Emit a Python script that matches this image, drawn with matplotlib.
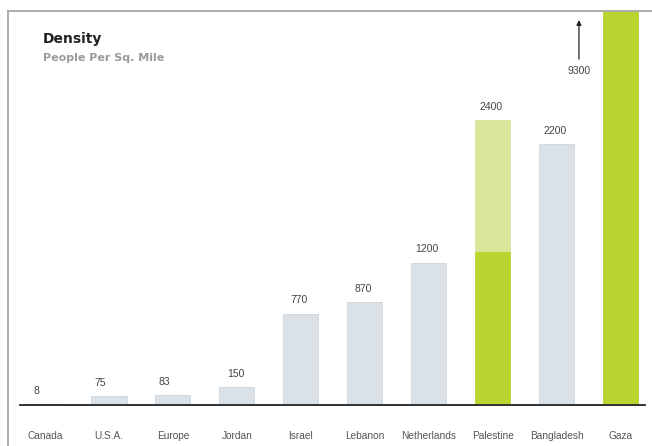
import matplotlib.pyplot as plt
from matplotlib.lines import Line2D

# Data
countries = ['Canada', 'U.S.A.', 'Europe', 'Jordan', 'Israel', 'Lebanon',
             'Netherlands', 'Palestine', 'Bangladesh', 'Gaza']
density = [8, 75, 83, 150, 770, 870, 1200, 2400, 2200, 9300]
palestine_lower = 1300   # darker green part of the Palestine bar
highlight = ['Palestine', 'Gaza']

# Colours
GREY_BAR = '#dbe2e7'
GREY_EDGE = '#cdd5db'
GREEN = '#bcd430'
LIGHT_GREEN = '#d9e69c'

plt.rcParams['font.family'] = ['Liberation Sans', 'DejaVu Sans']

W, H = 652, 446
fig = plt.figure(figsize=(W / 100, H / 100), dpi=100)

# axes placed by pixel box: baseline at y=405, top frame at y=11
ax = fig.add_axes([20 / W, (H - 405) / H, (645 - 20) / W, (405 - 11) / H])
px_per_unit = 0.1186
ax.set_ylim(0, 394 / px_per_unit)
ax.set_xlim(-0.391, 9.383)

width = 0.55
x = list(range(len(countries)))
for i, (name, val) in enumerate(zip(countries, density)):
    if name == 'Palestine':
        ax.bar(i, palestine_lower, width, color=GREEN, edgecolor=GREEN, linewidth=0.6)
        ax.bar(i, val - palestine_lower, width, bottom=palestine_lower,
               color=LIGHT_GREEN, edgecolor=LIGHT_GREEN, linewidth=0.6)
    elif name in highlight:
        ax.bar(i, val, width, color=GREEN, edgecolor='#b5cc2c', linewidth=0.6)
    else:
        ax.bar(i, val, width, color=GREY_BAR, edgecolor=GREY_EDGE, linewidth=0.6)

    if name != 'Gaza':
        dx = -6 if val < 100 else -1
        ax.annotate(str(val), xy=(i, val), xytext=(dx, 9.5), textcoords='offset points',
                    ha='center', va='center', fontsize=7.5, color='#444444')

# Gaza runs off the chart: arrow with the value
gaza_i = countries.index('Gaza')
ax.annotate(str(density[gaza_i]), xy=(gaza_i - 0.65, 3246), xytext=(gaza_i - 0.65, 2816),
            ha='center', va='center', fontsize=7.5, color='#444444',
            arrowprops=dict(arrowstyle='-|>', color='#222222', lw=0.9,
                            mutation_scale=7, shrinkA=3, shrinkB=0))

for s in ['top', 'right', 'left']:
    ax.spines[s].set_visible(False)
ax.spines['bottom'].set_color('#222222')
ax.spines['bottom'].set_linewidth(1.3)
ax.set_yticks([])
ax.set_xticks(x)
ax.set_xticklabels(countries, fontsize=7.3, color='#555555')
ax.tick_params(axis='x', length=0, pad=19)

# frame lines (left and top)
fig.add_artist(Line2D([8 / W, 8 / W], [0, 1 - 11 / H], color='#a8a8a8', lw=1.3))
fig.add_artist(Line2D([8 / W, 1], [1 - 11 / H, 1 - 11 / H], color='#a8a8a8', lw=1.3))

# titles (wider face to approximate the spaced-out lettering)
fig.text(43 / W, 1 - 39 / H, 'Density', fontsize=10, fontweight='bold',
         family='DejaVu Sans', color='#222222', ha='left', va='center')
fig.text(43 / W, 1 - 58 / H, 'People Per Sq. Mile', fontsize=8, fontweight='bold',
         family='DejaVu Sans', color='#9a9a9a', ha='left', va='center')

fig.savefig('out.png', dpi=100)
